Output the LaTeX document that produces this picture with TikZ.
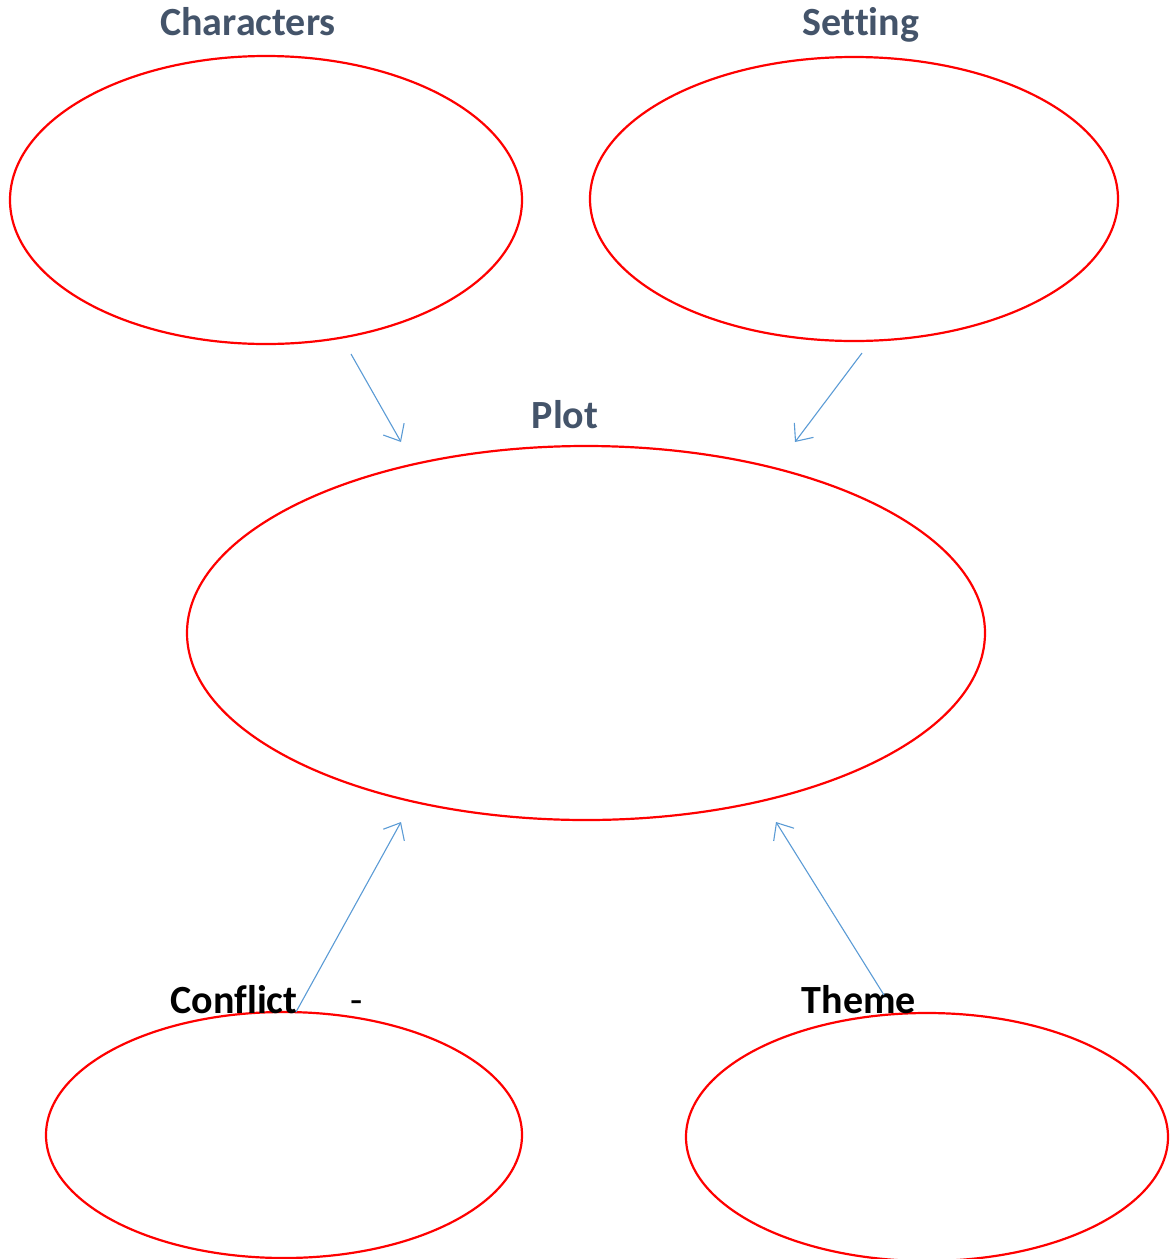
\documentclass[tikz,border=0pt]{standalone}
\usepackage{fontspec}
\setmainfont[Ligatures=NoCommon]{Carlito}
\usetikzlibrary{arrows.meta,shapes.geometric}
\definecolor{ovalred}{HTML}{FF0000}
\definecolor{titlegray}{HTML}{44546A}
\definecolor{linkblue}{HTML}{5B9BD5}
\tikzset{
    oval/.style={ellipse, draw=ovalred, line width=1.1pt, inner sep=0pt},
    title/.style={anchor=base, font=\fontsize{20}{24}\selectfont\bfseries, text=titlegray},
    label/.style={anchor=base, font=\fontsize{20}{24}\selectfont\bfseries, text=black},
    link/.style={draw=linkblue, line width=0.55pt, -{Straight Barb[length=7pt,width=12pt]}}
}
\begin{document}
\begin{tikzpicture}[x=0.5pt, y=-0.5pt]
        \useasboundingbox (0,0) rectangle (1169,1259);

        % Ellipsen
        \node[oval, minimum width=256pt, minimum height=144pt] (chars) at (266,200) {};
        \node[oval, minimum width=264pt, minimum height=142pt] (setting) at (854,199) {};
        \node[oval, minimum width=399pt, minimum height=187pt] (plot) at (586,633) {};
        \node[oval, minimum width=238pt, minimum height=123pt] (conflict) at (284,1135) {};
        \node[oval, minimum width=241pt, minimum height=124pt] (theme) at (927,1137) {};

        % Titel
        \node[title] (charsT) at (248,35) {Characters};
        \node[title] (settingT) at (861,35) {Setting};
        \node[title] (plotT) at (565,428) {Plot};
        \node[label] (conflictT) at (234,1013) {Conflict};
        \node[label, font=\fontsize{20}{24}\selectfont] (dash) at (357,1013) {-};
        \node[label] (themeT) at (859,1013) {Theme};

        % Pfeile
        \coordinate (c1) at (351,354);  \coordinate (p1) at (401,442);
        \coordinate (s1) at (862,353);  \coordinate (p2) at (795,442);
        \coordinate (k1) at (296,1012); \coordinate (p3) at (401,822);
        \coordinate (t1) at (884,995);  \coordinate (p4) at (776,822);
        \draw[link] (c1) -- (p1);
        \draw[link] (s1) -- (p2);
        \draw[link] (k1) -- (p3);
        \draw[link] (t1) -- (p4);

    \end{tikzpicture}
\end{document}
